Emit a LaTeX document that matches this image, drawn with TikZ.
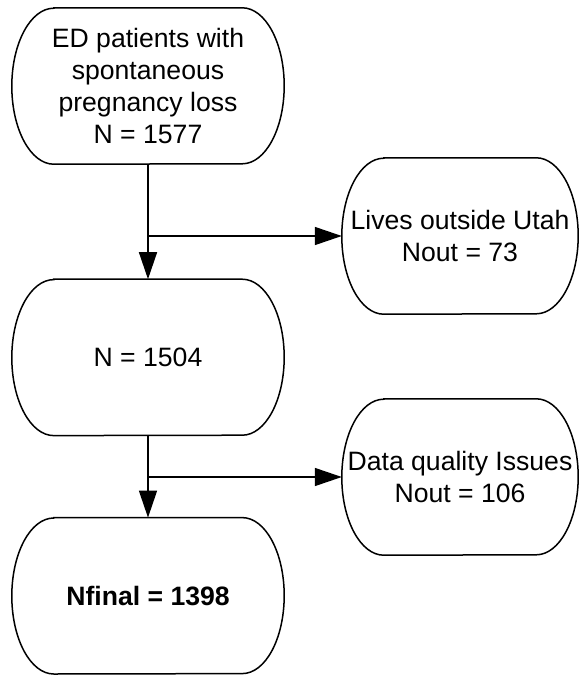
\documentclass[tikz,border=0pt]{standalone}
\usepackage{fontspec}
\setmainfont{Liberation Sans}
\usetikzlibrary{arrows.meta,positioning}

% outline with elliptic ends round a named node
\newcommand{\stadium}[1]{%
  \draw[outline] ([xshift=42pt]#1.north west) -- ([xshift=-42pt]#1.north east)
    arc[start angle=90, end angle=-90, x radius=42pt, y radius=78pt]
    -- ([xshift=42pt]#1.south west)
    arc[start angle=270, end angle=90, x radius=42pt, y radius=78pt] -- cycle;}

\begin{document}
\begin{tikzpicture}[
    stage/.style={rectangle, inner sep=0pt, minimum width=272pt, minimum height=156pt, align=center, font=\fontsize{26.6}{32}\selectfont},
    exclude/.style={rectangle, inner sep=0pt, minimum width=236pt, minimum height=156pt, align=center, font=\fontsize{26.6}{32}\selectfont},
    outline/.style={line width=1.5pt},
    arrow/.style={-{Triangle[length=27pt, width=18pt]}, line width=1.5pt}
]
\useasboundingbox (0pt,0pt) rectangle (579pt,-675pt);

% Main flow
\node[stage] (cohort) at (148pt,-86pt) {ED patients with\\spontaneous\\pregnancy loss\\N = 1577};
\node[stage, below=115pt of cohort] (utahres) {N = 1504};
\node[stage, below=82pt of utahres] (final) {\textbf{Nfinal = 1398}};

% Exclusions
\node[exclude] (outside) at (460pt,-236pt) {Lives outside Utah\\Nout = 73};
\node[exclude] (quality) at (460pt,-477pt) {Data quality Issues\\Nout = 106};

\stadium{cohort}
\stadium{utahres}
\stadium{final}
\stadium{outside}
\stadium{quality}

% Split points
\coordinate (split1) at (cohort.south |- outside.west);
\coordinate (split2) at (utahres.south |- quality.west);

% Arrows
\draw[arrow] (cohort.south) -- (utahres.north);
\draw[arrow] (split1) -- (outside.west);
\draw[arrow] (utahres.south) -- (final.north);
\draw[arrow] (split2) -- (quality.west);

\end{tikzpicture}
\end{document}
